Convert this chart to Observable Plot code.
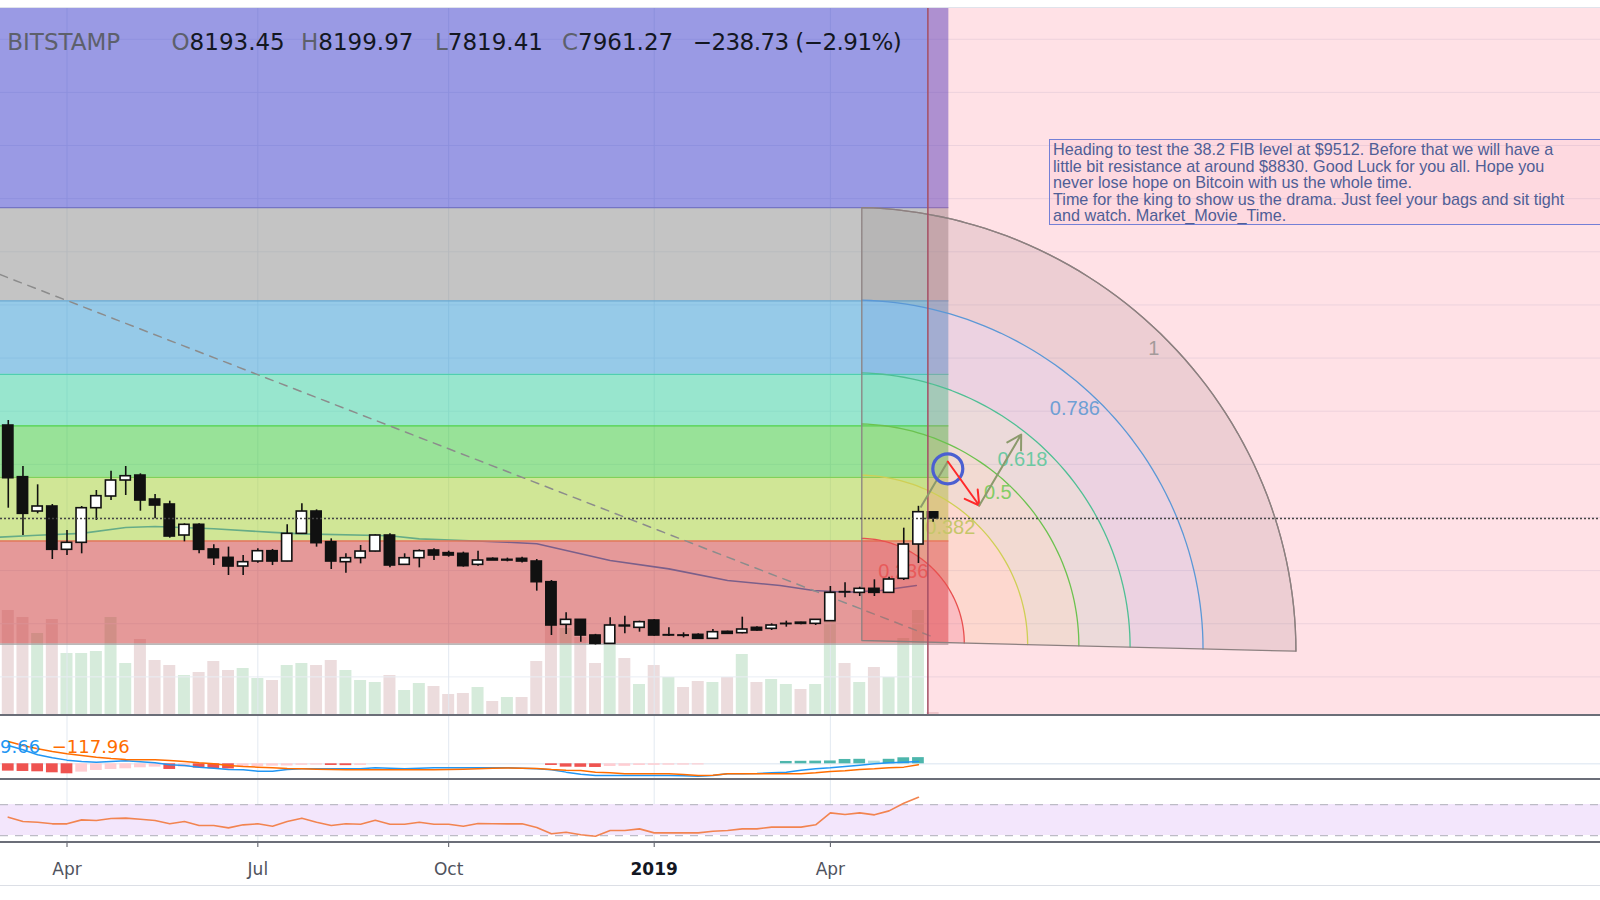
<!DOCTYPE html>
<html>
<head>
<meta charset="utf-8">
<script src="https://cdn.jsdelivr.net/npm/d3@7"></script>
<script src="https://cdn.jsdelivr.net/npm/@observablehq/plot@0.6"></script>
<style>
  html, body { margin: 0; padding: 0; background: #ffffff; }
  #chart { position: relative; width: 1600px; height: 900px; overflow: hidden; background: #ffffff; }
  .layer { position: absolute; left: 0; }
  .layer svg { display: block; }
  .hdr { position: absolute; top: 30.5px; font-family: "DejaVu Sans", sans-serif; font-size: 23px; line-height: 23px; white-space: nowrap; color: #131722; }
  .hdr .k { color: #5d606b; }
  .note { position: absolute; left: 1049px; top: 139px; width: 720px; height: 83px; border: 1.5px solid #7480d6; background: rgba(235,120,150,0.07); padding: 1px 0 0 3px; font-family: "Liberation Sans", Arial, sans-serif; font-size: 16.2px; line-height: 16.5px; color: #4f5e96; white-space: nowrap; }
  .mlab { position: absolute; top: 737.8px; font-family: "DejaVu Sans", sans-serif; font-size: 18px; line-height: 18px; white-space: nowrap; }
</style>
</head>
<body>
<div id="chart"></div>
<script>
// ---------------- DATA (weekly BTC/USD, Bitstamp) ----------------
const weekStart = "2018-03-05";
const weekEnd = "2019-05-21";

const open = [11461, 9516, 8224, 8413, 6783, 7046, 8349, 8789, 9391, 9578,
  8676, 8488, 7321, 7724, 6796, 6480, 6154, 6342, 6731, 6342,
  7384, 8224, 7071, 6317, 6467, 6718, 7321, 6217, 6467, 6757,
  6657, 6632, 6217, 6443, 6380, 6443, 6342, 5564, 3959, 4147,
  3557, 3243, 3930, 3846, 4122, 3557, 3560, 3582, 3432, 3695,
  3645, 3846, 3808, 3985, 4040, 3996, 4097, 5190, 5163, 5314,
  5163, 5690, 6982, 8193.45];
const high = [11650, 9918, 9229, 8488, 7509, 8413, 9015, 9742, 9918, 9643,
  8864, 8613, 7761, 7761, 6971, 6883, 6568, 6820, 6796, 7724,
  8513, 8287, 7196, 6632, 6946, 7347, 7384, 6632, 6783, 6820,
  6731, 6694, 6731, 6480, 6470, 6500, 6418, 5627, 4410, 4160,
  3600, 4222, 4285, 4097, 4159, 3846, 3658, 3620, 3783, 3720,
  4247, 3890, 3996, 4097, 4060, 4147, 5402, 5540, 5376, 5653,
  5753, 7597, 8420, 8199.97];
const low = [8349, 7321, 8137, 6418, 6568, 6632, 7886, 8638, 8827, 8236,
  7948, 7221, 7083, 6632, 6192, 5815, 5815, 6280, 6191, 6330,
  7370, 6883, 6041, 5903, 6254, 6700, 6104, 6192, 6104, 6380,
  6506, 6129, 6167, 6380, 6330, 6290, 5226, 3557, 3595, 3306,
  3200, 3240, 3620, 3682, 3532, 3520, 3469, 3410, 3420, 3600,
  3620, 3720, 3745, 3871, 3960, 3934, 4090, 4975, 5025, 5025,
  5140, 5627, 6267, 7819.41];
const close = [9478, 8137, 8413, 6783, 7046, 8349, 8801, 9391, 9553, 8638,
  8450, 7283, 7724, 6783, 6467, 6154, 6317, 6731, 6342, 7384,
  8224, 7033, 6342, 6467, 6718, 7321, 6192, 6467, 6731, 6568,
  6568, 6167, 6380, 6380, 6405, 6342, 5564, 3934, 4147, 3557,
  3243, 3934, 3900, 4059, 3557, 3570, 3545, 3432, 3682, 3620,
  3783, 3745, 3934, 3996, 3995, 4147, 5163, 5180, 5314, 5163,
  5665, 6982, 8199, 7961.27];
// volume, thousands
const volume = [105, 98, 82, 96, 62, 62, 64, 98, 52, 76,
  55, 50, 40, 43, 54, 45, 47, 37, 35, 50,
  52, 50, 55, 45, 35, 33, 40, 25, 32, 29,
  21, 22, 28, 14, 18, 18, 54, 90, 87, 78,
  52, 85, 57, 31, 50, 38, 28, 34, 33, 38,
  61, 33, 36, 31, 26, 31, 102, 52, 33, 48,
  38, 77, 105, 3];

// MACD (12,26,9) — macd, signal, histogram (first 63 weeks)
const macdLine = [1100, 840, 540, 360, 220, 140, 100, 140, 180, 120,
  60, -60, -100, -200, -260, -340, -360, -440, -440, -340,
  -300, -300, -300, -300, -300, -240, -260, -300, -260, -240,
  -240, -240, -240, -240, -240, -260, -300, -360, -500, -620,
  -700, -700, -700, -700, -700, -700, -720, -740, -700, -600,
  -600, -580, -540, -500, -380, -300, -240, -160, -80, 0,
  60, 100, 140];
const signalLine = [1340, 1100, 900, 740, 600, 500, 400, 320, 260, 240,
  240, 200, 140, 60, 0, -100, -160, -200, -240, -280,
  -300, -320, -340, -350, -360, -360, -360, -360, -360, -350,
  -340, -320, -300, -270, -250, -260, -280, -340, -380, -400,
  -500, -540, -600, -600, -600, -600, -640, -700, -680, -600,
  -600, -600, -600, -600, -600, -540, -460, -420, -340, -300,
  -240, -200, -60];
const histogram = [-440, -460, -480, -540, -600, -500, -400, -340, -300, -240,
  -200, -340, -200, -260, -300, -310, -200, -160, -140, -130,
  -90, -80, -100, -110, -100, 0, 0, 0, 0, 0,
  0, 0, 0, 0, 0, 0, 0, -100, -200, -210,
  -220, -160, -150, -100, -90, -85, -80, -70, 0, 0,
  0, 0, 0, 140, 150, 160, 170, 260, 270, 160,
  270, 360, 370];
const macdLabels = ["9.66", "\u2212117.96"];

// RSI (14)
const rsi = [53.7, 48.1, 47.2, 45.1, 45.1, 50.2, 49.4, 51.9, 52.4, 51.1,
  49.4, 45.1, 48.1, 42.9, 42.9, 39.9, 43.8, 45.1, 42.0, 48.1,
  52.4, 47.2, 42.9, 45.1, 44.6, 49.8, 44.6, 44.6, 47.2, 44.6,
  44.6, 42.0, 45.5, 45.1, 45.1, 45.1, 40.3, 32.2, 34.3, 30.9,
  29.1, 36.5, 36.5, 38.6, 33.4, 33.4, 33.4, 33.4, 35.6, 36.5,
  38.6, 38.6, 40.8, 40.8, 40.8, 43.8, 59.2, 57.1, 59.2, 56.7,
  61.8, 71.7, 79.4];
const rsiBounds = [30, 70];

// moving average
const maDates = ["2018-03-01", "2018-03-19", "2018-04-09", "2018-04-30", "2018-05-14", "2018-06-11",
  "2018-07-09", "2018-07-23", "2018-09-03", "2018-09-17", "2018-10-08", "2018-10-29", "2018-11-12",
  "2018-12-17", "2019-01-14", "2019-02-11", "2019-03-08", "2019-03-24", "2019-04-09", "2019-04-25", "2019-05-12"];
const maValues = [7260, 7330, 7400, 7620, 7660, 7575, 7440, 7384, 7310, 7196, 7133, 7070, 7008,
  6380, 6066, 5627, 5439, 5251, 5188, 5251, 5439];

// axis ticks
const tickDates = ["2018-04-02", "2018-07-02", "2018-10-01", "2019-01-07", "2019-04-01"];
const tickLabels = ["Apr", "Jul", "Oct", "2019", "Apr"];
const gridPrices = [2000, 4000, 6000, 8000, 10000, 12000, 14000, 16000, 18000, 20000, 22000, 24000, 26000];

// drawings
const lastPrice = 7961.27;
const fibLow = 3236, fibHigh = 19666;
const fibLevels = [0, 0.236, 0.382, 0.5, 0.618, 0.786, 1, 1.618];
const fibEndDate = "2019-05-27T12:00Z";
const trendAnchors = [["2018-03-01", 17145], ["2019-05-19", 3533]];
const fanRatios = [0.236, 0.382, 0.5, 0.618, 0.786, 1];
const fanLabels = ["0.236", "0.382", "0.5", "0.618", "0.786", "1"];
const fanCenter = ["2019-04-16", 3370], fanTop = ["2019-04-16", 19666], fanRight = ["2019-11-09", 2966];
const rangeStartDate = "2019-05-17T12:00Z";
const pathStart = ["2019-05-14", 8375], pathCircle = ["2019-05-27", 9832], pathTurn = ["2019-05-27", 10106],
      pathBounce = ["2019-06-11", 8450], pathTarget = ["2019-07-01", 11123];
const noteLines = [
  "Heading to test the 38.2 FIB level at $9512. Before that we will have a",
  "little bit resistance at around $8830. Good Luck for you all. Hope you",
  "never lose hope on Bitcoin with us the whole time.",
  "Time for the king to show us the drama. Just feel your bags and sit tight",
  "and watch. Market_Movie_Time."
];

// ---------------- STYLE ----------------
const fibBandColors = ["rgb(204,51,51)", "rgb(161,205,45)", "rgb(49,197,49)", "rgb(49,205,157)", "rgb(45,149,209)", "rgb(138,138,138)", "rgb(53,53,201)"];
const fibLineColors = ["#a3a3a3", "#e0785a", "#7fd15a", "#4fd24f", "#4fcfb0", "#6aa8d0", "#7474c4"];
const fanStroke = ["#e8504f", "#cfcf55", "#6cc24f", "#4fbf94", "#5b98d6", "#998787"];
const fanFill = ["#eb4646", "#f0b446", "#96c85a", "#50be96", "#5a82d2", "#786e6e"];
const fanFillOpacity = [0.24, 0.15, 0.15, 0.13, 0.14, 0.16];
const fanLabelColor = ["#e85a5a", "#c6c66a", "#84cc66", "#6cc9a3", "#6f9fd4", "#a39a9a"];
const fanLabelAngle = [59.5, 52.5, 48.2, 49.1, 48.1, 45.8];
const fanLabelRadius = [0.188, 0.335, 0.47, 0.565, 0.735, 0.965];

// ---------------- GEOMETRY ----------------
const DAY = 864e5, WEEK = 7 * DAY;
const APR2 = Date.UTC(2018, 3, 2);
const PX_WEEK = 14.68, X_APR2 = 66.5;
const W = 1600;
const xDomain = [new Date(APR2 - X_APR2 / PX_WEEK * WEEK), new Date(APR2 + (W - X_APR2) / PX_WEEK * WEEK)];
const priceDomain = [546.2, 27157.7];
const D = s => new Date(s);

const weeks = d3.utcMonday.range(D(weekStart), D(weekEnd));
const candles = weeks.map((date, k) => ({date, open: open[k], high: high[k], low: low[k], close: close[k], volume: volume[k], up: close[k] >= open[k]}));
const ups = candles.filter(d => d.up), downs = candles.filter(d => !d.up);
const shift = (d, days) => new Date(+d + days * DAY);

const ma = maDates.map((s, k) => ({date: D(s), value: maValues[k]}));
const fibP = l => fibLow + l * (fibHigh - fibLow);
const bands = fibBandColors.map((c, k) => ({lo: fibP(fibLevels[k]), hi: fibP(fibLevels[k + 1]), c}));
const levelLines = fibLevels.slice(0, 7).map((l, k) => ({p: fibP(l), c: fibLineColors[k]}));
const fibStart = xDomain[0], fibEnd = D(fibEndDate);
const trend = trendAnchors.map(([s, p]) => ({date: D(s), price: p}));

const C = {t: +D(fanCenter[0]), p: fanCenter[1]};
const T = {t: +D(fanTop[0]), p: fanTop[1]};
const R = {t: +D(fanRight[0]), p: fanRight[1]};
function fanPt(r, deg) {
  const a = deg * Math.PI / 180, c = Math.cos(a), s = Math.sin(a);
  return {date: new Date(C.t + r * (c * (R.t - C.t) + s * (T.t - C.t))), price: C.p + r * (c * (R.p - C.p) + s * (T.p - C.p))};
}
const angles = d3.range(0, 90.001, 1.5);
const arcPts = r => angles.map(a => fanPt(r, a));
const rings = fanRatios.map((r, k) => {
  const inner = k === 0 ? [fanPt(0, 0)] : arcPts(fanRatios[k - 1]).reverse();
  return arcPts(r).concat(inner);
});
const outline = [fanPt(0, 0)].concat(arcPts(1), [fanPt(0, 0)]);
const fanText = fanRatios.map((r, k) => ({...fanPt(fanLabelRadius[k], fanLabelAngle[k]), t: fanLabels[k], c: fanLabelColor[k]}));

const P = a => ({date: D(a[0]), price: a[1]});
const seg = (a, b) => ({x1: D(a[0]), y1: a[1], x2: D(b[0]), y2: b[1]});

// ---------------- LAYERS ----------------
const chart = document.getElementById("chart");
function addLayer(svg, top) {
  const d = document.createElement("div");
  d.className = "layer"; d.style.top = top + "px";
  d.appendChild(svg); chart.appendChild(d);
}
function addDiv(css) {
  const d = document.createElement("div");
  d.setAttribute("style", css);
  chart.appendChild(d);
  return d;
}
const base = {
  width: W, marginLeft: 0, marginRight: 0, marginTop: 0, marginBottom: 0,
  x: {type: "utc", domain: xDomain, axis: null},
  color: {type: "identity"}
};

// top border
addDiv("position:absolute;left:0;top:7px;width:1600px;height:1px;background:#e0e3eb;");

// volume (bottom layer of main pane)
addLayer(Plot.plot({
  ...base, height: 707,
  y: {domain: [0, 707], axis: null},
  style: {background: "#ffffff"},
  marks: [
    Plot.rect(ups, {x1: d => shift(d.date, -2.86), x2: d => shift(d.date, 2.86), y1: 0, y2: "volume", fill: "#d6ebdb"}),
    Plot.rect(downs, {x1: d => shift(d.date, -2.86), x2: d => shift(d.date, 2.86), y1: 0, y2: "volume", fill: "#ecdcdd"})
  ]
}), 8);

// price pane
addLayer(Plot.plot({
  ...base, height: 707,
  y: {domain: priceDomain, axis: null},
  style: {background: "transparent"},
  marks: [
    Plot.ruleY(gridPrices, {stroke: "#e9edf4", strokeWidth: 1}),
    Plot.ruleX(tickDates.map(D), {stroke: "#e3e9f1", strokeWidth: 1}),
    Plot.line(ma, {x: "date", y: "value", stroke: "#2b8be0", strokeWidth: 1.6}),
    Plot.rect(bands, {x1: () => fibStart, x2: () => fibEnd, y1: "lo", y2: "hi", fill: "c", fillOpacity: 0.5}),
    Plot.ruleY(levelLines, {y: "p", x1: () => fibStart, x2: () => fibEnd, stroke: "c", strokeWidth: 1.3}),
    Plot.line(trend, {x: "date", y: "price", stroke: "#8c8c8c", strokeWidth: 1.5, strokeDasharray: "8,7"}),
    ...rings.map((pts, k) => Plot.line(pts, {x: "date", y: "price", fill: fanFill[k], fillOpacity: fanFillOpacity[k], stroke: "none"})),
    Plot.rect([0], {x1: () => D(rangeStartDate), x2: () => xDomain[1], y1: () => priceDomain[0], y2: () => priceDomain[1], fill: "rgb(255,105,130)", fillOpacity: 0.2}),
    ...fanRatios.map((r, k) => Plot.line(arcPts(r), {x: "date", y: "price", stroke: fanStroke[k], strokeWidth: 1.3})),
    Plot.line(outline, {x: "date", y: "price", stroke: "#8c8080", strokeWidth: 1.3}),
    Plot.text(fanText, {x: "date", y: "price", text: "t", fill: "c", fontSize: 20, fontFamily: "Liberation Sans, Arial, sans-serif"}),
    Plot.ruleX(candles, {x: "date", y1: "low", y2: "high", stroke: "#111111", strokeWidth: 1.6}),
    Plot.rect(ups, {x1: d => shift(d.date, -2.45), x2: d => shift(d.date, 2.45), y1: "open", y2: "close", fill: "#ffffff", stroke: "#111111", strokeWidth: 1.6}),
    Plot.rect(downs, {x1: d => shift(d.date, -2.45), x2: d => shift(d.date, 2.45), y1: "open", y2: "close", fill: "#111111", stroke: "#111111", strokeWidth: 1.6}),
    Plot.ruleX([D(rangeStartDate)], {stroke: "#a44f64", strokeWidth: 1.5}),
    Plot.link([seg(pathStart, pathTurn)], {x1: "x1", y1: "y1", x2: "x2", y2: "y2", stroke: "#8c9a6c", strokeWidth: 2}),
    Plot.dot([P(pathCircle)], {x: "date", y: "price", r: 15, stroke: "#4b5fd1", strokeWidth: 3.2, fill: "none"}),
    Plot.arrow([seg(pathTurn, pathBounce)], {x1: "x1", y1: "y1", x2: "x2", y2: "y2", stroke: "#ff2a2a", strokeWidth: 2, headLength: 12}),
    Plot.arrow([seg(pathBounce, pathTarget)], {x1: "x1", y1: "y1", x2: "x2", y2: "y2", stroke: "#8c9a6c", strokeWidth: 2, headLength: 12}),
    Plot.ruleY([lastPrice], {stroke: "#454545", strokeWidth: 1.5, strokeDasharray: "2,2"})
  ]
}), 8);

// MACD pane
const macdData = macdLine.map((v, k) => ({date: weeks[k], macd: v, signal: signalLine[k], hist: histogram[k],
  c: histogram[k] < 0 ? (k > 0 && histogram[k] >= histogram[k - 1] ? "#ffcdd2" : "#ef5350")
                      : (k > 0 && histogram[k] >= histogram[k - 1] ? "#4db6ac" : "#b2dfdb")}));
addLayer(Plot.plot({
  ...base, height: 64,
  y: {domain: [-942, 2898], axis: null},
  style: {background: "#ffffff"},
  marks: [
    Plot.ruleX(tickDates.map(D), {stroke: "#e3e9f1", strokeWidth: 1}),
    Plot.ruleY([0], {stroke: "#e6edf5", strokeWidth: 1.5}),
    Plot.rect(macdData.filter(d => d.hist !== 0), {x1: d => shift(d.date, -2.8), x2: d => shift(d.date, 2.8), y1: 0, y2: "hist", fill: "c"}),
    Plot.line(macdData, {x: "date", y: "macd", stroke: "#2196f3", strokeWidth: 1.5}),
    Plot.line(macdData, {x: "date", y: "signal", stroke: "#ff6d00", strokeWidth: 1.5})
  ]
}), 715);

// RSI pane + time axis
const rsiData = rsi.map((v, k) => ({date: weeks[k], rsi: v}));
const tickIdx = new Map(tickDates.map((s, k) => [+D(s), k]));
const rsiSvg = Plot.plot({
  ...base, height: 106, marginBottom: 43,
  x: {type: "utc", domain: xDomain, ticks: tickDates.map(D), tickFormat: d => tickLabels[tickIdx.get(+d)] ?? "", tickSize: 5, tickPadding: 15, label: null},
  y: {domain: [21, 102.3], axis: null},
  style: {background: "#ffffff", fontSize: "17px", fontFamily: "DejaVu Sans, sans-serif", color: "#50535e"},
  marks: [
    Plot.ruleX(tickDates.map(D), {stroke: "#e3e9f1", strokeWidth: 1}),
    Plot.rect([0], {x1: () => xDomain[0], x2: () => xDomain[1], y1: rsiBounds[0], y2: rsiBounds[1], fill: "#f3e6fc"}),
    Plot.ruleY(rsiBounds, {stroke: "#bdbcc6", strokeWidth: 1.3, strokeDasharray: "8,7"}),
    Plot.line(rsiData, {x: "date", y: "rsi", stroke: "#f28450", strokeWidth: 1.6})
  ]
});
rsiSvg.querySelectorAll("text").forEach(t => {
  if (t.textContent.trim() === "2019") { t.setAttribute("font-weight", "bold"); t.setAttribute("fill", "#131722"); }
});
addLayer(rsiSvg, 779);

// pane separators
addDiv("position:absolute;left:0;top:714px;width:1600px;height:2px;background:#6b6e78;");
addDiv("position:absolute;left:0;top:778px;width:1600px;height:2px;background:#6b6e78;");
addDiv("position:absolute;left:0;top:841px;width:1600px;height:2px;background:#6b6e78;");
addDiv("position:absolute;left:0;top:885px;width:1600px;height:1px;background:#dcdfe6;");

// header (legend line)
chart.insertAdjacentHTML("beforeend",
  '<div class="hdr" style="left:7.3px"><span class="k">BITSTAMP</span></div>' +
  '<div class="hdr" style="left:171.5px"><span class="k">O</span>8193.45</div>' +
  '<div class="hdr" style="left:301px"><span class="k">H</span>8199.97</div>' +
  '<div class="hdr" style="left:435px"><span class="k">L</span>7819.41</div>' +
  '<div class="hdr" style="left:562px"><span class="k">C</span>7961.27</div>' +
  '<div class="hdr" style="left:692.7px;letter-spacing:-0.55px">\u2212238.73 (\u22122.91%)</div>');

// MACD values
chart.insertAdjacentHTML("beforeend",
  '<div class="mlab" style="left:0px;color:#2196f3">' + macdLabels[0] + '</div>' +
  '<div class="mlab" style="left:51.7px;color:#ff6d00">' + macdLabels[1] + '</div>');

// note box
chart.insertAdjacentHTML("beforeend", '<div class="note">' + noteLines.join("<br>") + '</div>');
</script>
</body>
</html>
